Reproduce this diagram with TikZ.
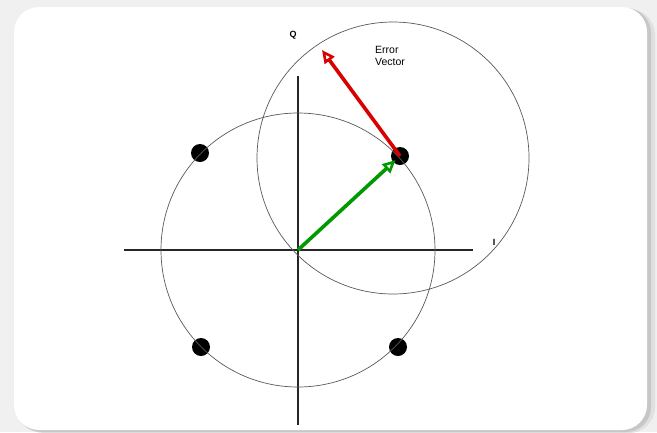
\documentclass[tikz,border=0pt]{standalone}
\usepackage{fontspec}
\setmainfont{Liberation Sans}
\usetikzlibrary{arrows.meta,positioning,calc}

\begin{document}
\begin{tikzpicture}[x=1pt,y=-1pt,
  axis/.style={line width=1.4pt,black!85},
  ring/.style={line width=0.7pt,black!65},
  sym/.style={circle,fill=black,inner sep=0pt,minimum size=18pt},
  vec/.style={line width=3.6pt,-{Triangle[open,length=13pt,width=12pt,line width=2.6pt]}},
  lab/.style={font=\fontsize{10.5}{12}\selectfont,inner sep=0pt}]
\useasboundingbox (0,0) rectangle (657,432);
% card with shadow
\fill[black!6] (0,0) rectangle (657,432);
\fill[black!12,rounded corners=26pt] (18,9) rectangle (655,433);
\fill[black!22,rounded corners=25pt] (16,8) rectangle (651,432);
\fill[white,rounded corners=25pt] (14,7) rectangle (647,430);
% axes
\coordinate (O) at (298,250);
\coordinate (xl) at (124,250);
\coordinate (xr) at (473,250);
\coordinate (yt) at (298,76);
\coordinate (yb) at (298,425);
\draw[axis] (xl) -- (xr);
\draw[axis] (yt) -- (yb);
% constellation points
\node[sym] (s1) at (400,156) {};
\node[sym] (s2) at (200,153) {};
\node[sym] (s3) at (201,347) {};
\node[sym] (s4) at (398,347) {};
% circles
\draw[ring] (O) circle[radius=137pt];
\draw[ring] (393,158) circle[radius=136pt];
% vectors
\coordinate (tip) at (322,50);
\draw[vec,red!85!black] (s1.center) -- (tip);
\draw[vec,green!60!black,shorten >=6pt] (O) -- (s1.center);
% labels
\node[lab,font=\fontsize{9}{10}\selectfont\bfseries] (Q) at (293,35) {Q};
\node[lab,font=\fontsize{9}{10}\selectfont\bfseries] (I) at (494,242) {I};
\node[lab,align=left,anchor=north west] (err) at (375,46) {Error\\Vector};
\end{tikzpicture}
\end{document}
